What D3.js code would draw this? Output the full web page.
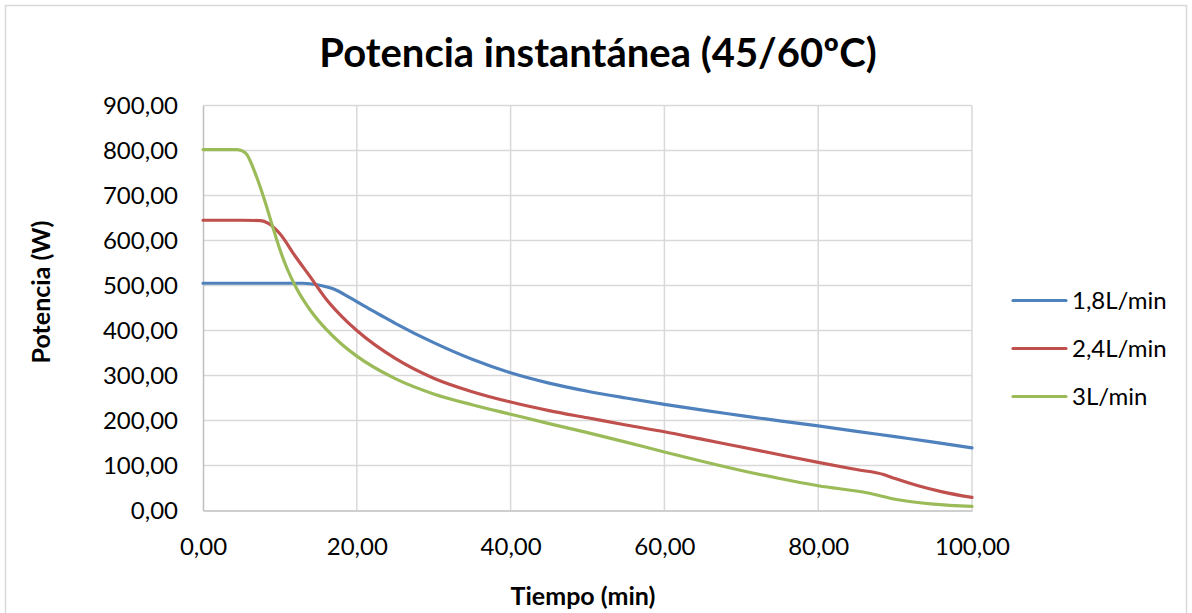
<!DOCTYPE html>
<html><head><meta charset="utf-8">
<script src="https://cdn.jsdelivr.net/npm/d3@7"></script>
<style>body{margin:0;background:#fff}svg{display:block}</style>
</head><body>
<svg id="c" width="1192" height="613"></svg>
<script>
const title = "Potencia instantánea (45/60ºC)";
const xTitle = "Tiempo (min)";
const yTitle = "Potencia (W)";
const seriesNames = ["1,8L/min", "2,4L/min", "3L/min"];
const seriesColors = ["#4f81bd", "#c0504d", "#9bbb59"];
const xTicks = [0, 20, 40, 60, 80, 100];
const yTicks = [0, 100, 200, 300, 400, 500, 600, 700, 800, 900];

const t18 = [0,5,10,13,15,17,19,21,23,25,30,35,40,45,50,55,60,65,70,75,80,85,90,95,100];
const p18 = [505,505,505,505,501,492,474,454,435,416,373,336,306,283,265,250,236,223,211,199,188,176,164,152,139];
const t24 = [0,5,7.5,8.5,10,12,14,16,18,20,25,30,35,40,45,50,55,60,65,70,75,80,85,88.5,90,93,96,100];
const p24 = [645,645,644,638,615,565,518,470,432,400,338,294,264,241,222,206,190,175,158,141,124,107,91,80,71,55,42,29];
const t30 = [0,4.5,5.5,7,8,9,10,11,12,13,14,16,18,20,25,30,35,40,45,50,55,60,65,70,75,80,86.5,90,95,100];
const p30 = [802,802,795,740,690,634,580,535,499,469,444,403,370,343,293,259,235,214,193,173,152,130,109,89,71,55,39,25,14,9];

const series = [[t18,p18],[t24,p24],[t30,p30]];
const FONT = "Lato, 'Open Sans', sans-serif";

const svg = d3.select("#c");
svg.append("rect").attr("x",5.5).attr("y",5.5).attr("width",1181).attr("height",620)
  .attr("fill","#fff").attr("stroke","#d9d9d9").attr("stroke-width",1.5);

const L=203, R=972, T=105.5, B=510.5;
const x = d3.scaleLinear().domain([0,100]).range([L,R]);
const y = d3.scaleLinear().domain([0,900]).range([B,T]);

const g = svg.append("g");
g.selectAll(".vg").data(xTicks.slice(1)).join("line")
  .attr("x1",d=>x(d)).attr("x2",d=>x(d)).attr("y1",T).attr("y2",B)
  .attr("stroke","#d9d9d9").attr("stroke-width",1.5);
g.selectAll(".hg").data(yTicks.slice(1)).join("line")
  .attr("x1",L).attr("x2",R).attr("y1",d=>y(d)).attr("y2",d=>y(d))
  .attr("stroke","#d9d9d9").attr("stroke-width",1.5);

const fmt = d => d3.format(".2f")(d).replace(".", ",");
const yAxis = g.append("g").attr("transform",`translate(${L},0)`)
  .call(d3.axisLeft(y).tickValues(yTicks).tickSize(0).tickPadding(25).tickFormat(fmt));
const xAxis = g.append("g").attr("transform",`translate(0,${B})`)
  .call(d3.axisBottom(x).tickValues(xTicks).tickSize(0).tickPadding(27).tickFormat(fmt));
[yAxis,xAxis].forEach(a=>{
  a.select(".domain").attr("stroke","#bfbfbf").attr("stroke-width",1.5);
  a.selectAll("text").attr("font-family",FONT).attr("font-size",24).attr("fill","#000");
});

const line = d3.line().x(d=>x(d[0])).y(d=>y(d[1])).curve(d3.curveMonotoneX);
series.forEach((s,i)=>{
  const pts = s[0].map((t,j)=>[t,s[1][j]]);
  g.append("path").datum(pts).attr("d",line).attr("fill","none")
    .attr("stroke",seriesColors[i]).attr("stroke-width",3.2).attr("stroke-linecap","round");
});

svg.append("text").attr("x",598).attr("y",67).attr("text-anchor","middle")
  .attr("font-family",FONT).attr("font-weight","bold").attr("font-size",40)
  .text(title);
svg.append("text").attr("x",583).attr("y",605).attr("text-anchor","middle")
  .attr("font-family",FONT).attr("font-weight","bold").attr("font-size",25)
  .text(xTitle);
svg.append("text").attr("transform","translate(50,292) rotate(-90)").attr("text-anchor","middle")
  .attr("font-family",FONT).attr("font-weight","bold").attr("font-size",25)
  .text(yTitle);

const leg = svg.append("g");
seriesNames.forEach((n,i)=>{
  const yy = 300.5 + i*48;
  leg.append("line").attr("x1",1013).attr("x2",1066).attr("y1",yy).attr("y2",yy)
    .attr("stroke",seriesColors[i]).attr("stroke-width",3.2).attr("stroke-linecap","round");
  leg.append("text").attr("x",1072).attr("y",yy+8.5)
    .attr("font-family",FONT).attr("font-size",24).text(n);
});
</script>
</body></html>
